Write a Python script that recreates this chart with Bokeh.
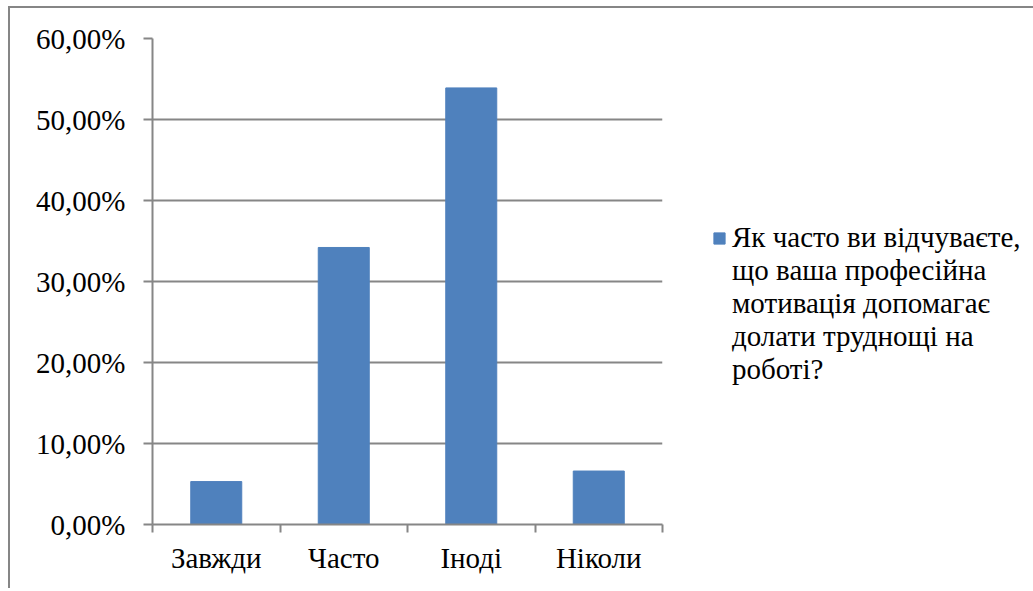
from bokeh.plotting import figure
from bokeh.models import FixedTicker, Legend, LegendItem, Range1d
from bokeh.embed import file_html
from bokeh.resources import INLINE

categories = ["Завжди", "Часто", "Іноді", "Ніколи"]
values = [0.053, 0.342, 0.539, 0.066]
y_ticks = [0.0, 0.1, 0.2, 0.3, 0.4, 0.5, 0.6]
y_tick_labels = ["0,00%", "10,00%", "20,00%", "30,00%", "40,00%", "50,00%", "60,00%"]
series_lines = ["Як часто ви відчуваєте,", "що ваша професійна", "мотивація допомагає",
                "долати труднощі на", "роботі?"]

FONT = "Liberation Serif"
GRID = "#868686"
BAR = "#4F81BD"

p = figure(frame_width=510, frame_height=486, output_backend="svg", toolbar_location=None,
           x_range=Range1d(0, len(categories)), y_range=Range1d(0, 0.6),
           min_border_left=142, min_border_right=0, min_border_top=30,
           min_border_bottom=64)
p.styles = {"border-left": f"2px solid {GRID}", "border-top": f"2px solid {GRID}",
            "margin-left": "8px", "margin-top": "6px"}
p.outline_line_color = None

xs = [i + 0.5 for i in range(len(categories))]
r = p.vbar(x=xs, top=values, width=0.4, fill_color=BAR, line_color=BAR)
# invisible renderer used only for the wrapped legend lines
r_blank = p.vbar(x=[], top=[], width=0.4, fill_alpha=0, line_alpha=0)

# y axis
p.yaxis.ticker = FixedTicker(ticks=y_ticks)
p.yaxis.major_label_overrides = {t: l for t, l in zip(y_ticks, y_tick_labels)}
p.yaxis.axis_line_color = GRID
p.yaxis.axis_line_width = 2
p.yaxis.major_tick_line_color = GRID
p.yaxis.major_tick_line_width = 2
p.yaxis.major_tick_in = 0
p.yaxis.major_tick_out = 9
p.yaxis.minor_tick_line_color = None
p.yaxis.major_label_text_font = FONT
p.yaxis.major_label_text_font_size = "29px"
p.yaxis.major_label_text_color = "black"
p.yaxis.major_label_standoff = 18

# x axis
p.xaxis.ticker = FixedTicker(ticks=xs, minor_ticks=list(range(len(categories) + 1)))
p.xaxis.major_label_overrides = {x: c for x, c in zip(xs, categories)}
p.xaxis.axis_line_color = GRID
p.xaxis.axis_line_width = 2
p.xaxis.major_tick_line_color = None
p.xaxis.minor_tick_line_color = GRID
p.xaxis.minor_tick_line_width = 2
p.xaxis.minor_tick_in = 0
p.xaxis.minor_tick_out = 8
p.xaxis.major_label_text_font = FONT
p.xaxis.major_label_text_font_size = "29px"
p.xaxis.major_label_text_color = "black"
p.xaxis.major_label_standoff = 9

p.xgrid.grid_line_color = None
p.ygrid.ticker = FixedTicker(ticks=y_ticks)
p.ygrid.grid_line_color = GRID
p.ygrid.grid_line_width = 2

items = [LegendItem(label=series_lines[0], renderers=[r])]
items += [LegendItem(label=t, renderers=[r_blank]) for t in series_lines[1:]]
legend = Legend(items=items, location=(50, 138), border_line_color=None, background_fill_alpha=0,
                label_text_font=FONT, label_text_font_size="29px", label_text_color="black",
                glyph_width=14, glyph_height=14, label_standoff=6, padding=0, margin=0,
                spacing=0, label_height=32)
p.add_layout(legend, "right")

open("out.html", "w").write(file_html(p, INLINE))
